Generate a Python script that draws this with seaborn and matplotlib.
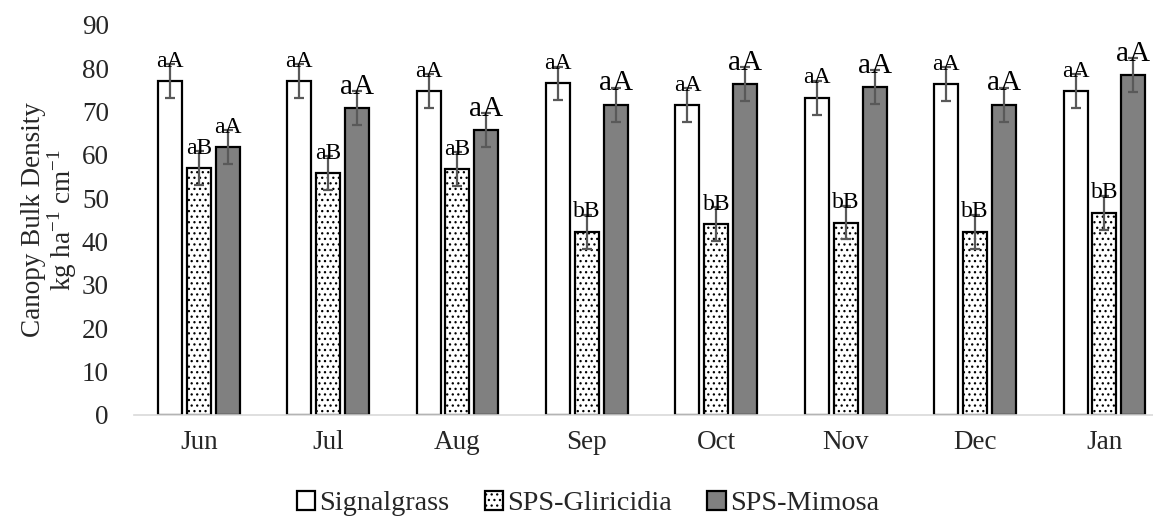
import matplotlib
matplotlib.use("Agg")
import matplotlib.pyplot as plt
import numpy as np
import pandas as pd
import seaborn as sns

months = ["Jun", "Jul", "Aug", "Sep", "Oct", "Nov", "Dec", "Jan"]
treatments = ["Signalgrass", "SPS-Gliricidia", "SPS-Mimosa"]
signalgrass = [77.0, 77.0, 74.8, 76.5, 71.5, 73.2, 76.4, 74.8]
gliricidia = [57.0, 55.8, 56.7, 42.3, 44.0, 44.4, 42.3, 46.7]
mimosa = [61.8, 70.8, 65.7, 71.6, 76.3, 75.6, 71.6, 78.5]
err_signalgrass = [3.9, 3.9, 3.9, 3.9, 3.9, 3.9, 3.9, 3.9]
err_gliricidia = [3.9, 3.9, 3.9, 3.9, 3.9, 3.9, 3.9, 3.9]
err_mimosa = [3.9, 3.9, 3.9, 3.9, 3.9, 3.9, 3.9, 3.9]
lab_signalgrass = ["aA"] * 8
lab_gliricidia = ["aB", "aB", "aB", "bB", "bB", "bB", "bB", "bB"]
lab_mimosa = ["aA"] * 8

df = pd.DataFrame({
    "month": months * 3,
    "treatment": np.repeat(treatments, len(months)),
    "value": signalgrass + gliricidia + mimosa,
})
errs = [err_signalgrass, err_gliricidia, err_mimosa]
labels = [lab_signalgrass, lab_gliricidia, lab_mimosa]

sns.set_style("white")
plt.rcParams["font.family"] = ["Liberation Serif", "DejaVu Serif"]
plt.rcParams["mathtext.fontset"] = "custom"
plt.rcParams["mathtext.rm"] = "Liberation Serif"
plt.rcParams["hatch.linewidth"] = 0.9
plt.rcParams["hatch.color"] = "#444444"

fig = plt.figure(figsize=(11.53, 5.19), dpi=100)
ax = fig.add_axes([134 / 1153, 1 - 415 / 519, 1 - 134 / 1153, (415 - 25) / 519])

colors = {"Signalgrass": "white", "SPS-Gliricidia": "white", "SPS-Mimosa": "#808080"}
sns.barplot(
    data=df, x="month", y="value", hue="treatment", order=months,
    hue_order=treatments, palette=colors, width=0.67, gap=0.17,
    edgecolor="black", linewidth=1.6, errorbar=None, ax=ax, legend=True,
)

bar_groups = list(ax.containers)
for i, cont in enumerate(bar_groups):
    for j, bar in enumerate(cont):
        if i == 1:
            bar.set_hatch("...")
        xc = bar.get_x() + bar.get_width() / 2
        h = bar.get_height()
        ax.errorbar(xc, h, yerr=errs[i][j], color="#595959", capsize=3.8,
                    capthick=1.6, elinewidth=1.6, zorder=5)
        big = i == 2 and j > 0
        ax.text(xc, h + errs[i][j] - 0.6, labels[i][j], ha="center", va="baseline",
                fontsize=21 if big else 17, color="black", zorder=6)

ax.set_ylim(0, 90)
ax.set_xlim(-0.5, 7.375)
ax.set_yticks(np.arange(0, 91, 10))
ax.tick_params(axis="y", labelsize=19.5, pad=18, length=0)
ax.tick_params(axis="x", labelsize=19.5, pad=11, length=0)
ax.set_xlabel("")
ax.set_ylabel("Canopy Bulk Density\nkg ha$^{\\mathregular{-1}}$ cm$^{\\mathregular{-1}}$",
              fontsize=19.5, labelpad=2, linespacing=0.95)
for s in ["top", "right", "left"]:
    ax.spines[s].set_visible(False)
ax.spines["bottom"].set_color("#d9d9d9")
ax.spines["bottom"].set_linewidth(1.2)

handles, lbls = ax.get_legend_handles_labels()
handles[1].set_hatch("...")
ax.legend_.remove()
fig.legend(handles, lbls, loc="center", bbox_to_anchor=(0.51, 0.03), ncol=3,
           frameon=False, fontsize=20.3, handlelength=0.65, handleheight=0.65,
           handletextpad=0.15, columnspacing=1.25, borderpad=0.1)

fig.savefig("out.png", dpi=100)
